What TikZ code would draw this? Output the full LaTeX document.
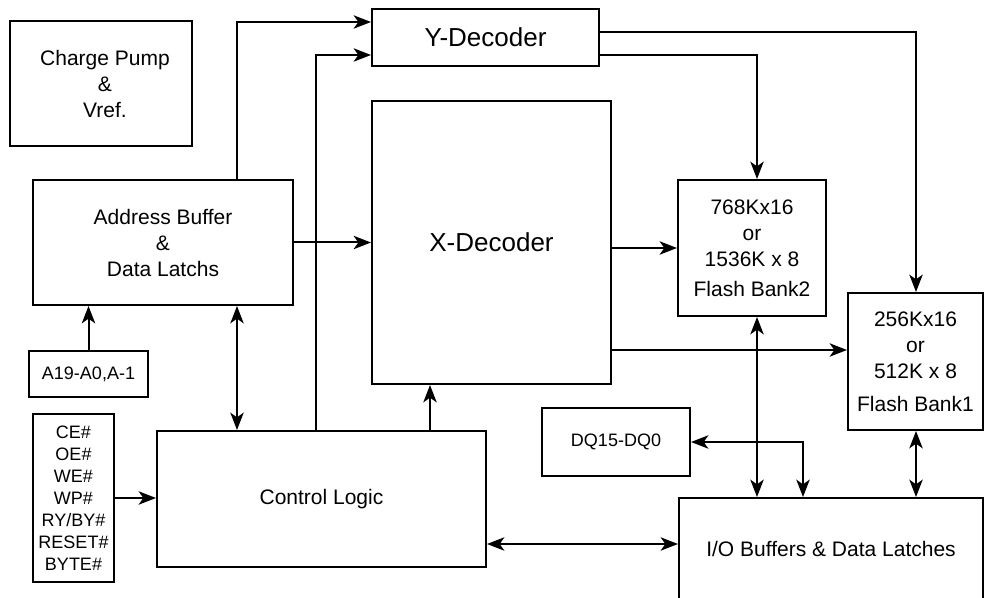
\documentclass[tikz,border=0pt]{standalone}
\usepackage{fontspec}
\setmainfont{Liberation Sans}
\usepackage{tikz}
\usetikzlibrary{arrows.meta, positioning}

\begin{document}
\begin{tikzpicture}[
    x=0.75pt, y=-0.75pt,
    block/.style={rectangle, draw=black, line width=1.5pt, inner sep=2pt, align=center, font=\fontsize{15.75}{19.5}\selectfont},
    bigblock/.style={block, font=\fontsize{19.5}{23}\selectfont},
    pinbox/.style={block, font=\fontsize{13.5}{16.5}\selectfont},
    arrow/.style={-{Stealth[length=13pt, width=10pt, inset=3.5pt]}, line width=1.5pt},
    darrow/.style={{Stealth[length=13pt, width=10pt, inset=3.5pt]}-{Stealth[length=13pt, width=10pt, inset=3.5pt]}, line width=1.5pt}
]
\useasboundingbox (0,0) rectangle (984,598);

% Main boxes
\node[block, minimum width=136.5pt, minimum height=93.75pt] (pump) at (101,83.5) {\raisebox{-4pt}{\hspace*{6pt}Charge Pump}\\\raisebox{-4pt}{\hspace*{6pt}\&}\\\raisebox{-4pt}{\hspace*{6pt}Vref.}};
\node[bigblock, minimum width=170.25pt, minimum height=42.75pt] (ydec) at (485.5,37.5) {Y-Decoder};
\node[bigblock, minimum width=179.25pt, minimum height=212.25pt] (xdec) at (491.5,242.5) {\raisebox{-4.5pt}{X-Decoder}};
\node[block, minimum width=195pt, minimum height=93.75pt] (addr) at (163,242.5) {Address Buffer\\\&\\Data Latchs};
\node[pinbox, minimum width=89.25pt, minimum height=34.5pt] (addrpins) at (88.5,374) {A19-A0,A-1};
\node[pinbox, minimum width=60.75pt, minimum height=126pt] (ctrlpins) at (73.5,498) {CE\#\\OE\#\\WE\#\\WP\#\\RY/BY\#\\RESET\#\\BYTE\#};
\node[block, minimum width=246.75pt, minimum height=102pt] (ctrl) at (321.5,499) {Control Logic};
\node[block, minimum width=111pt, minimum height=102pt] (bank2) at (752,248) {768Kx16\\or\\1536K x 8\\[3pt]Flash Bank2};
\node[block, minimum width=101.25pt, minimum height=102.75pt] (bank1) at (915.5,361.5) {256Kx16\\or\\512K x 8\\[5pt]Flash Bank1};
\node[pinbox, minimum width=111pt, minimum height=51pt] (dqpins) at (616,442) {DQ15-DQ0};
\node[block, minimum width=228pt, minimum height=76.5pt] (io) at (831,549) {I/O Buffers \& Data Latches};

% Bend points
\coordinate (addrtap) at (237,22);
\coordinate (ctrltap) at (316,55);
\coordinate (banktap) at (757,55);
\coordinate (ydectap) at (916,32);
\coordinate (xdectap) at (430,350);
\coordinate (iotap) at (803,442);
\coordinate (bustap) at (0,544);

% Arrows
\draw[arrow] (addr.north -| addrtap) |- (ydec.west |- addrtap);
\draw[arrow] (ctrl.north -| ctrltap) |- (ydec.west |- ctrltap);
\draw[arrow] (ydec.east |- ydectap) -| (bank1.north -| ydectap);
\draw[arrow] (ydec.east |- banktap) -| (bank2.north -| banktap);
\draw[arrow] (addr.east) -- (xdec.west |- addr.east);
\draw[arrow] (xdec.east |- bank2.west) -- (bank2.west);
\draw[arrow] (xdec.east |- xdectap) -- (bank1.west |- xdectap);
\draw[arrow] (addrpins.north) -- (addr.south -| addrpins.north);
\draw[darrow] (addr.south -| addrtap) -- (ctrl.north -| addrtap);
\draw[arrow] (ctrl.north -| xdectap) -- (xdec.south -| xdectap);
\draw[arrow] (ctrlpins.east) -- (ctrl.west |- ctrlpins.east);
\draw[darrow] (ctrl.east |- bustap) -- (io.west |- bustap);
\draw[darrow] (bank2.south -| banktap) -- (io.north -| banktap);
\draw[darrow] (dqpins.east) -| (io.north -| iotap);
\draw[darrow] (bank1.south -| ydectap) -- (io.north -| ydectap);

\end{tikzpicture}
\end{document}
